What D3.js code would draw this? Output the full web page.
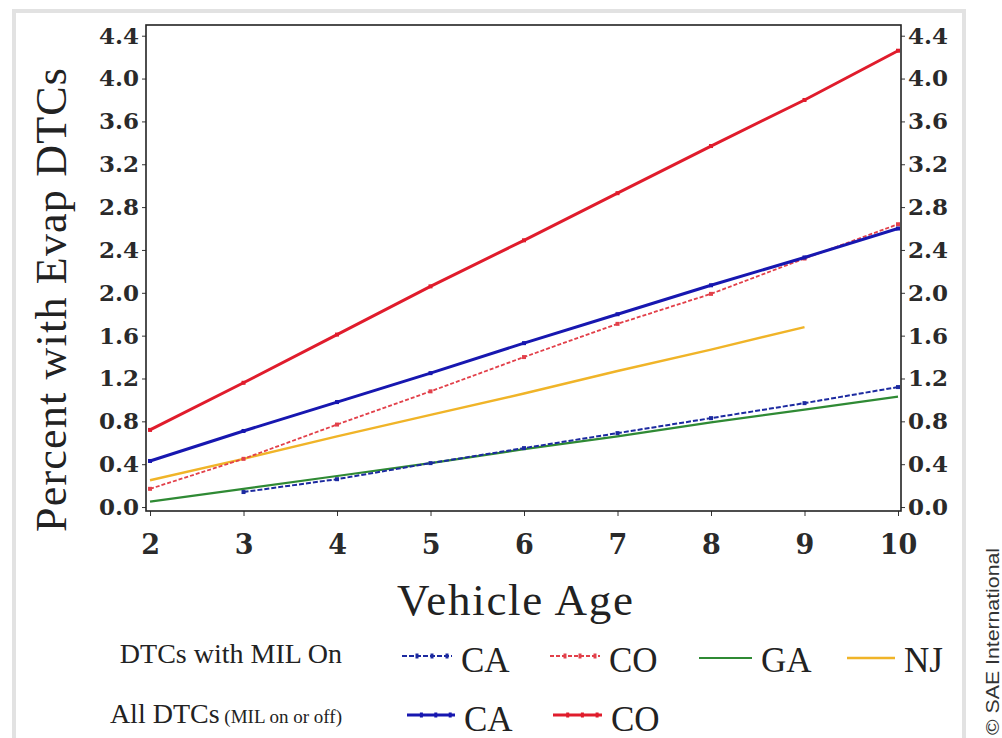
<!DOCTYPE html>
<html>
<head>
<meta charset="utf-8">
<script src="https://cdn.jsdelivr.net/npm/d3@7"></script>
<style>
  body { margin: 0; background: #fff; }
  svg { display: block; }
</style>
</head>
<body>
<div id="vis"></div>
<script>
// data
var ages = [2, 3, 4, 5, 6, 7, 8, 9, 10];
var caAll = [0.43, 0.71, 0.98, 1.25, 1.53, 1.80, 2.07, 2.33, 2.60];
var coAll = [0.72, 1.16, 1.61, 2.06, 2.49, 2.93, 3.37, 3.80, 4.26];
var caMil = [null, 0.14, 0.26, 0.41, 0.55, 0.69, 0.83, 0.97, 1.12];
var coMil = [0.17, 0.45, 0.77, 1.08, 1.40, 1.71, 1.99, 2.32, 2.64];
var gaMil = [0.05, 0.17, 0.29, 0.41, 0.54, 0.66, 0.79, 0.91, 1.03];
var njMil = [0.25, 0.45, 0.66, 0.86, 1.06, 1.27, 1.47, 1.68, null];
var yTicks = [0.0, 0.4, 0.8, 1.2, 1.6, 2.0, 2.4, 2.8, 3.2, 3.6, 4.0, 4.4];
var xTicks = [2, 3, 4, 5, 6, 7, 8, 9, 10];

var svgW = 1002, svgH = 738;
var plotL = 146, plotR = 901, plotT = 25, plotB = 511;

var svg = d3.select('#vis').append('svg').attr('width', svgW).attr('height', svgH);

// light grey border of the original picture
svg.append('rect').attr('x', 14).attr('y', 11).attr('width', 950).attr('height', 740)
  .style('fill', 'none').style('stroke', '#e2e2e2').style('stroke-width', 4);

var x = d3.scaleLinear().domain([1.957, 10.032]).range([plotL, plotR]);
var y = d3.scaleLinear().domain([-0.037, 4.5]).range([plotB, plotT]);

var tickFont = '"DejaVu Serif", serif';

// left axis
var gl = svg.append('g').attr('transform', 'translate(' + plotL + ',0)')
  .call(d3.axisLeft(y).tickValues(yTicks).tickFormat(d3.format('.1f')).tickSize(4).tickPadding(3));
// right axis
var gr = svg.append('g').attr('transform', 'translate(' + plotR + ',0)')
  .call(d3.axisRight(y).tickValues(yTicks).tickFormat(d3.format('.1f')).tickSize(4).tickPadding(3));
// bottom axis
var gb = svg.append('g').attr('transform', 'translate(0,' + plotB + ')')
  .call(d3.axisBottom(x).tickValues(xTicks).tickFormat(d3.format('d')).tickSize(5).tickPadding(19));

[gl, gr, gb].forEach(function (g) {
  g.select('.domain').remove();
  g.selectAll('line').attr('stroke', '#333');
  g.selectAll('text').style('font-family', tickFont).style('font-weight', 'bold')
    .style('fill', '#2a2a2a');
});
gl.selectAll('text').style('font-size', '23px');
gr.selectAll('text').style('font-size', '23px');
gb.selectAll('text').style('font-size', '27px');

// series lines
var series = [
  {name: 'gaMil', vals: gaMil, color: '#2f8a34', width: 2.2, dash: null, mark: false},
  {name: 'njMil', vals: njMil, color: '#f0b428', width: 2.4, dash: null, mark: false},
  {name: 'caMil', vals: caMil, color: '#1c2aa0', width: 2, dash: '5,2', mark: true},
  {name: 'coMil', vals: coMil, color: '#e2404a', width: 1.8, dash: '4,2', mark: true},
  {name: 'caAll', vals: caAll, color: '#1717b0', width: 3, dash: null, mark: true},
  {name: 'coAll', vals: coAll, color: '#e01c2c', width: 3, dash: null, mark: true}
];

var line = d3.line()
  .defined(function (d) { return d[1] != null; })
  .x(function (d) { return x(d[0]); })
  .y(function (d) { return y(d[1]); });

var plot = svg.append('g');
series.forEach(function (s) {
  var pts = ages.map(function (a, i) { return [a, s.vals[i]]; });
  plot.append('path').datum(pts).attr('d', line)
    .style('fill', 'none').style('stroke', s.color).style('stroke-width', s.width)
    .style('stroke-dasharray', s.dash);
  if (s.mark) {
    plot.selectAll('.m-' + s.name).data(pts.filter(function (d) { return d[1] != null; }))
      .enter().append('rect').attr('class', 'm-' + s.name)
      .attr('x', function (d) { return x(d[0]) - 2; })
      .attr('y', function (d) { return y(d[1]) - 2; })
      .attr('width', 4).attr('height', 4)
      .style('fill', s.color);
  }
});

// frame
svg.append('rect').attr('x', plotL).attr('y', plotT).attr('width', plotR - plotL).attr('height', plotB - plotT)
  .style('fill', 'none').style('stroke', '#222').style('stroke-width', 1.6);

// axis titles
var serif = '"Liberation Serif", "Times New Roman", serif';
svg.append('text').attr('transform', 'translate(66,300) rotate(-90)')
  .attr('text-anchor', 'middle').attr('textLength', 464).attr('lengthAdjust', 'spacing')
  .style('font-family', serif).style('font-size', '44px').style('fill', '#222')
  .text('Percent with Evap DTCs');
svg.append('text').attr('x', 515).attr('y', 615)
  .attr('text-anchor', 'middle').attr('textLength', 236).attr('lengthAdjust', 'spacing')
  .style('font-family', serif).style('font-size', '45px').style('fill', '#222')
  .text('Vehicle Age');

// legend
var legRows = [
  {label: 'DTCs with MIL On', y: 663},
  {label: 'All DTCs', small: ' (MIL on or off)', y: 723}
];
svg.selectAll('.legRow').data(legRows).enter().append('text').attr('class', 'legRow')
  .attr('x', 342).attr('y', function (d) { return d.y; }).attr('text-anchor', 'end')
  .style('font-family', serif).style('font-size', '28px').style('fill', '#222')
  .each(function (d) {
    var t = d3.select(this);
    t.append('tspan').text(d.label);
    if (d.small) t.append('tspan').style('font-size', '19px').text(d.small);
  });

var legItems = [
  {s: series[2], label: 'CA', x0: 402, x1: 452, ly: 656, ty: 672},
  {s: series[3], label: 'CO', x0: 550, x1: 600, ly: 656, ty: 672},
  {s: series[0], label: 'GA', x0: 699, x1: 752, ly: 658, ty: 672},
  {s: series[1], label: 'NJ', x0: 847, x1: 895, ly: 658, ty: 672},
  {s: series[4], label: 'CA', x0: 407, x1: 455, ly: 715, ty: 731},
  {s: series[5], label: 'CO', x0: 553, x1: 602, ly: 715, ty: 731}
];
var leg = svg.selectAll('.leg').data(legItems).enter().append('g').attr('class', 'leg');
leg.append('line')
  .attr('x1', function (d) { return d.x0; }).attr('x2', function (d) { return d.x1; })
  .attr('y1', function (d) { return d.ly; }).attr('y2', function (d) { return d.ly; })
  .style('stroke', function (d) { return d.s.color; })
  .style('stroke-width', function (d) { return d.s.width; })
  .style('stroke-dasharray', function (d) { return d.s.dash; });
leg.filter(function (d) { return d.s.mark; }).selectAll('rect')
  .data(function (d) { return [0.3, 0.6, 0.9].map(function (f) { return {d: d, f: f}; }); })
  .enter().append('rect')
  .attr('x', function (e) { return e.d.x0 + (e.d.x1 - e.d.x0) * e.f - 1.5; })
  .attr('y', function (e) { return e.d.ly - 2.5; })
  .attr('width', 3).attr('height', 5)
  .style('fill', function (e) { return e.d.s.color; });
leg.append('text')
  .attr('x', function (d) { return d.x1 + 9; }).attr('y', function (d) { return d.ty; })
  .style('font-family', serif).style('font-size', '35px').style('fill', '#222')
  .text(function (d) { return d.label; });

// copyright
svg.append('text').attr('transform', 'translate(999,735) rotate(-90)')
  .attr('textLength', 187).attr('lengthAdjust', 'spacingAndGlyphs')
  .style('font-family', '"Liberation Sans", Arial, sans-serif').style('font-size', '19px')
  .style('fill', '#333')
  .text('\u00a9 SAE International');
</script>
</body>
</html>
